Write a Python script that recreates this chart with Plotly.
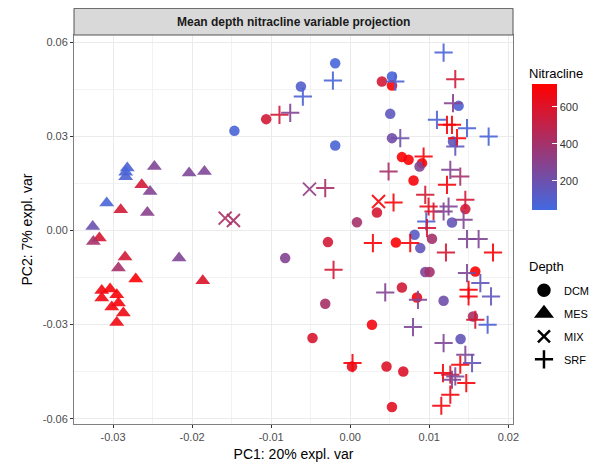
import numpy as np
import plotly.graph_objects as go

# PCA scores per depth layer (PC1, PC2) and nitracline depth (colour)
dcm_pc1 = [-0.01465, -0.01063, -0.00190, -0.00624, -0.00190, 0.00401, 0.00528, 0.00528,
           0.00506, 0.00528, 0.01371, 0.01300, 0.00654, 0.00738, 0.00908, 0.00877,
           0.00801, 0.00338, 0.00085, 0.01456, 0.01287, -0.00823, -0.00282, 0.00578,
           0.00814, 0.00886, 0.01034, 0.00949, 0.01004, 0.01582, 0.00654, 0.00844,
           0.01181, -0.00316, 0.01553, 0.00275, -0.00477, 0.01396, 0.00022, 0.00459,
           0.00671, 0.00528]
dcm_pc2 = [0.03182, 0.03556, 0.05341, 0.04595, 0.02714, 0.04754, 0.04914, 0.04627,
           0.03724, 0.02950, 0.03980, 0.02841, 0.02344, 0.02258, 0.02152, 0.02044,
           0.01598, 0.00577, 0.00265, 0.00686, 0.00258, -0.00877, -0.00367, -0.00379,
           -0.00134, -0.00558, -0.00261, -0.01323, -0.01323, -0.01304, -0.01814, -0.02133,
           -0.02239, -0.02334, -0.02739, -0.03004, -0.03428, -0.03460, -0.04334, -0.04334,
           -0.04493, -0.05628]
dcm_nit = [70, 560, 65, 110, 75, 560, 70, 700,
           150, 220, 90, 160, 700, 700, 700, 270,
           690, 570, 400, 560, 170, 280, 560, 700,
           130, 160, 400, 270, 400, 700, 550, 700,
           210, 410, 420, 680, 580, 170, 640, 600,
           600, 620]

mes_pc1 = [-0.02820, -0.02840, -0.02840, -0.02477, -0.02038, -0.01844, -0.02637, -0.02532,
           -0.03080, -0.02903, -0.02566, -0.03257, -0.03173, -0.03249, -0.02848, -0.02932,
           -0.02165, -0.02713, -0.01865, -0.03143, -0.03038, -0.02953, -0.03143, -0.02932,
           -0.03016, -0.02870, -0.02953]
mes_pc2 = [0.02000, 0.01860, 0.01720, 0.02044, 0.01834, 0.01885, 0.01460, 0.01247,
           0.00877, 0.00663, 0.00577, 0.00131, -0.00239, -0.00348, -0.00845, -0.01196,
           -0.00877, -0.01547, -0.01601, -0.01910, -0.01865, -0.02047, -0.02152, -0.02312,
           -0.02439, -0.02631, -0.02930]
mes_nit = [80, 70, 90, 270, 260, 260, 560, 280,
           70, 560, 300, 190, 570, 400, 560, 400,
           270, 710, 600, 680, 690, 700, 670, 690,
           680, 660, 670]

mix_pc1 = [-0.01582, -0.01477, -0.00515, 0.00358]
mix_pc2 = [0.00399, 0.00322, 0.01323, 0.00928]
mix_nit = [420, 410, 330, 700]

srf_pc1 = [-0.00895, -0.00759, -0.00599, -0.00219, 0.00570, 0.01181, 0.01329, 0.01300,
           0.01097, 0.01224, 0.01287, 0.01477, 0.01751, 0.01351, 0.01329, 0.00633,
           0.00928, 0.00485, 0.01266, 0.01392, 0.01224, -0.00316, 0.00548, 0.00949,
           0.00991, 0.01054, 0.01181, 0.01244, 0.01456, 0.00962, 0.01434, 0.00971,
           0.00287, 0.00759, 0.01211, 0.01477, 0.01624, 0.01806, -0.00211, 0.01477,
           0.01646, 0.01781, 0.01497, 0.01497, 0.00443, 0.00857, 0.01582, 0.01738,
           0.00794, 0.01181, 0.00029, 0.01456, 0.01541, 0.01392, 0.01173, 0.01266,
           0.01329, 0.01287, 0.01468, 0.01266, 0.01152]
srf_pc2 = [0.03693, 0.03756, 0.04276, 0.04786, 0.04754, 0.05679, 0.04831, 0.04066,
           0.03533, 0.03374, 0.03374, 0.03268, 0.03001, 0.02950, 0.02682, 0.02950,
           0.02363, 0.01885, 0.01939, 0.01725, 0.01460, 0.01355, 0.00896, 0.01142,
           0.00769, 0.00609, 0.00609, 0.00769, 0.00982, 0.00290, 0.00344, 0.00080,
           -0.00399, -0.00399, -0.00698, -0.00271, -0.00271, -0.00698, -0.01250, -0.01355,
           -0.01674, -0.02101, -0.01888, -0.02101, -0.01974, -0.02207, -0.02844, -0.03004,
           -0.03077, -0.03587, -0.04225, -0.03960, -0.04225, -0.04279, -0.04544, -0.04598,
           -0.04652, -0.04758, -0.04863, -0.05236, -0.05587]
srf_nit = [560, 280, 80, 70, 75, 70, 550, 290,
           80, 700, 700, 80, 75, 700, 160, 200,
           700, 410, 280, 400, 690, 410, 700, 560,
           640, 560, 270, 260, 560, 90, 280, 560,
           700, 690, 570, 270, 270, 700, 560, 260,
           160, 150, 700, 690, 280, 260, 570, 90,
           260, 260, 690, 270, 160, 690, 680, 580,
           260, 270, 690, 690, 680]

NIT_MIN, NIT_MAX = 43, 724
X_TICKS = [-0.03, -0.02, -0.01, 0.00, 0.01, 0.02]
X_TICKTEXT = ["-0.03", "-0.02", "-0.01", "0.00", "0.01", "0.02"]
Y_TICKS = [-0.06, -0.03, 0.00, 0.03, 0.06]
Y_TICKTEXT = ["-0.06", "-0.03", "0.00", "0.03", "0.06"]
FONT = "Liberation Sans, Arial, sans-serif"
LOW, HIGH = (65, 105, 225), (255, 0, 0)   # royalblue -> red


def nit_color(v):
    t = min(max((v - NIT_MIN) / (NIT_MAX - NIT_MIN), 0), 1)
    return "#%02x%02x%02x" % tuple(int(round(a + (b - a) * t)) for a, b in zip(LOW, HIGH))


colorscale = [[0, nit_color(NIT_MIN)], [1, nit_color(NIT_MAX)]]

fig = go.Figure()

# filled shapes
for xs, ys, cs, sym, size in [
    (dcm_pc1, dcm_pc2, dcm_nit, "circle", 10.5),
    (mes_pc1, mes_pc2, mes_nit, "triangle-up", 13),
]:
    fig.add_trace(go.Scatter(
        x=xs, y=ys, mode="markers", showlegend=False, hoverinfo="skip",
        marker=dict(symbol=sym, size=size, color=[nit_color(v) for v in cs],
                    opacity=0.9, line=dict(width=0)),
    ))

# line shapes (x and +)
for xs, ys, cs, sym, size in [
    (mix_pc1, mix_pc2, mix_nit, "x-thin-open", 13),
    (srf_pc1, srf_pc2, srf_nit, "cross-thin-open", 13),
]:
    cols = [nit_color(v) for v in cs]
    fig.add_trace(go.Scatter(
        x=xs, y=ys, mode="markers", showlegend=False, hoverinfo="skip",
        marker=dict(symbol=sym, size=size, opacity=0.9, color=cols,
                    line=dict(width=2, color=cols)),
    ))

# colourbar carrier (title drawn as annotation below)
fig.add_trace(go.Scatter(
    x=[None], y=[None], mode="markers", showlegend=False, hoverinfo="skip",
    marker=dict(
        color=[NIT_MIN, NIT_MAX], colorscale=colorscale, cmin=NIT_MIN, cmax=NIT_MAX,
        showscale=True,
        colorbar=dict(
            x=1.043, xanchor="left", y=0.874, yanchor="top",
            lenmode="pixels", len=126, thickness=25, thicknessmode="pixels",
            xpad=0, ypad=0, outlinewidth=0,
            tickvals=[200, 400, 600], ticks="inside", ticklen=5,
            tickcolor="white", tickfont=dict(size=11, color="#333"),
        ),
    ),
))
fig.add_annotation(xref="paper", yref="paper", x=1.032, y=0.900, xanchor="left",
                   yanchor="middle", text="Nitracline", showarrow=False,
                   font=dict(size=13, color="#000"))

# Depth legend (black keys), title as annotation
for name, sym, size in [("DCM", "circle", 11), ("MES", "triangle-up", 13),
                        ("MIX", "x-thin-open", 12), ("SRF", "cross-thin-open", 13)]:
    fig.add_trace(go.Scatter(
        x=[None], y=[None], mode="markers", name=name, legendgroup=name,
        marker=dict(symbol=sym, size=size, color="black", line=dict(width=2.5, color="black")),
    ))
fig.add_annotation(xref="paper", yref="paper", x=1.032, y=0.405, xanchor="left",
                   yanchor="middle", text="Depth", showarrow=False,
                   font=dict(size=13, color="#000"))

# facet strip
fig.add_shape(type="rect", xref="paper", yref="paper", x0=0, x1=1, y0=1, y1=1.0686,
              fillcolor="#D9D9D9", line=dict(color="#555555", width=1), layer="above")
fig.add_annotation(xref="paper", yref="paper", x=0.5, y=1.0343, yanchor="middle",
                   text="<b>Mean depth nitracline variable projection</b>", showarrow=False,
                   font=dict(size=12, color="#1A1A1A"))

axis_common = dict(
    showline=True, mirror=True, linecolor="#7F7F7F", linewidth=1,
    showgrid=True, gridcolor="#EBEBEB", gridwidth=1.1,
    ticks="outside", ticklen=3, tickcolor="#333333", tickwidth=1,
    tickfont=dict(size=11, color="#4D4D4D"), zeroline=False,
)

fig.update_xaxes(**axis_common, range=[-0.03494, 0.02059],
                 tickvals=X_TICKS, ticktext=X_TICKTEXT,
                 minor=dict(showgrid=True, dtick=0.005, tick0=0, gridcolor="#F2F2F2", gridwidth=0.6),
                 title=dict(text="PC1: 20% expl. var", font=dict(size=14, color="#000"), standoff=6))
fig.update_yaxes(**axis_common, range=[-0.0617, 0.0624],
                 tickvals=Y_TICKS, ticktext=Y_TICKTEXT,
                 minor=dict(showgrid=True, dtick=0.015, tick0=0, gridcolor="#F2F2F2", gridwidth=0.6),
                 title=dict(text="PC2: 7% expl. var", font=dict(size=14, color="#000"), standoff=6))

# page body adds an 8px offset, so the figure is 592x460 and left/top margins are shifted
fig.update_layout(
    width=592, height=460,
    margin=dict(l=66, r=87, t=27, b=44, autoexpand=False),
    paper_bgcolor="white", plot_bgcolor="white",
    font=dict(family=FONT),
    legend=dict(
        x=1.025, xanchor="left", y=0.381, yanchor="top",
        font=dict(size=11, color="#000"), tracegroupgap=4,
        bgcolor="rgba(0,0,0,0)",
    ),
)

fig.write_html("out.html")
